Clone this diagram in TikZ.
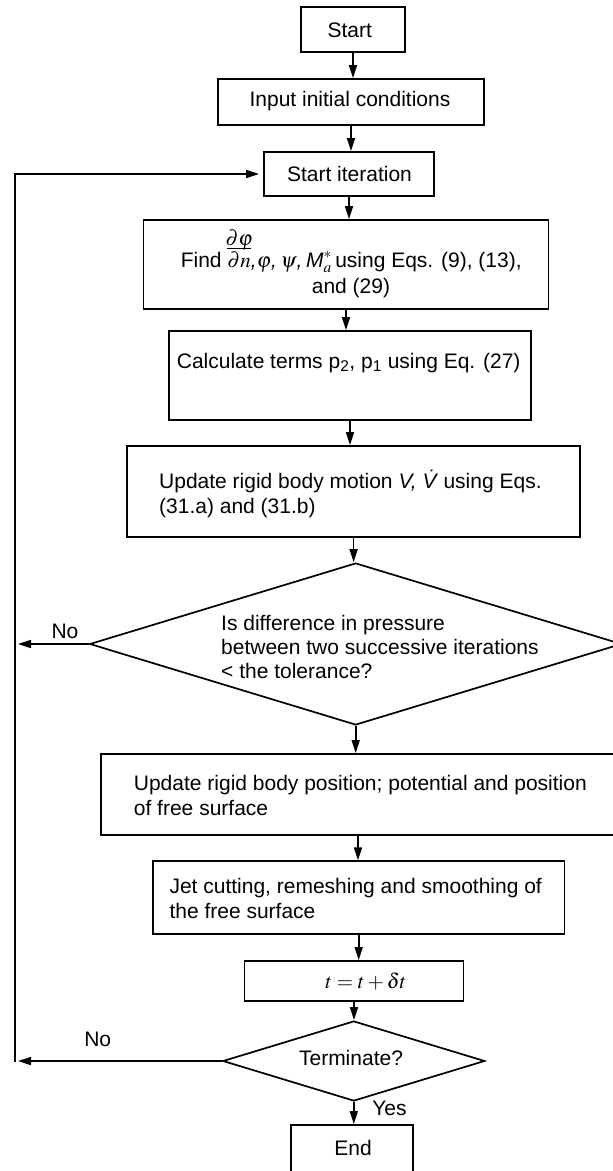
\documentclass[tikz,border=0pt]{standalone}
\usepackage{mathptmx}
\usepackage{fontspec}
\setmainfont{Liberation Sans}
\usetikzlibrary{arrows.meta,shapes.geometric}
\newcommand{\dphidn}{\leavevmode\setbox0\hbox{$\overline{\partial n}$}\rlap{\hbox to \wd0{\hss\raisebox{22pt}{$\partial\varphi$}\hss}}\box0}
\begin{document}
\begin{tikzpicture}[x=1pt,y=-1pt,
  box/.style={draw, line width=1.8pt, inner sep=0pt},
  dia/.style={draw, diamond, line width=1.7pt, inner sep=0pt},
  conn/.style={line width=1.6pt, -{Triangle[length=13pt,width=8pt]}},
  txt/.style={inner sep=0pt, font=\fontsize{21}{25}\selectfont},
  tl/.style={txt, anchor=base west},
  tc/.style={txt, anchor=base}]
\useasboundingbox (0,0) rectangle (613,1171);
\fill[white] (0,0) rectangle (613,1171);
\clip (0,0) rectangle (613,1171);

% boxes
\node[box, minimum width=104pt, minimum height=45pt] (start) at (353,29.7) {};
\node[box, minimum width=266pt, minimum height=46pt] (input) at (351,102) {};
\node[box, minimum width=170pt, minimum height=44pt] (iter) at (349,174) {};
\node[box, minimum width=405pt, minimum height=89pt] (find) at (346,264.5) {};
\node[box, minimum width=362pt, minimum height=89pt] (calc) at (350,375.5) {};
\node[box, minimum width=453pt, minimum height=91pt] (motion) at (353.6,491.5) {};
\node[dia, minimum width=532pt, minimum height=162pt] (d1) at (355.7,644) {};
\node[box, minimum width=514pt, minimum height=81pt] (upd) at (358,794.5) {};
\node[box, minimum width=411.6pt, minimum height=72.4pt] (jet) at (358.7,897.5) {};
\node[box, minimum width=219pt, minimum height=40pt] (tbox) at (354,981) {};
\node[dia, minimum width=262pt, minimum height=80pt] (d2) at (353.8,1061) {};
\node[box, minimum width=121.6pt, minimum height=47pt] (endb) at (352,1148.5) {};

% texts
\node[tc] (startt) at (349.8,37) {Start};
\node[tc] (inputt) at (350,106.5) {Input initial conditions};
\node[tc] (itert) at (349.5,181) {Start iteration};
\node[tl] (findt1) at (180.6,267) {Find \dphidn\textit{,}$\varphi$\textit{,}\,$\psi$\textit{,}\,$\mbox{\itshape M}^{*}_{a}$\,using Eqs. (9), (13),};
\node[tc] (findt2) at (351,293) {and (29)};
\node[tl] (calct) at (176.7,368) {Calculate terms p\textsubscript{2}, p\textsubscript{1} using Eq. (27)};
\node[tl] (motiont1) at (159,488) {Update rigid body motion \textit{V, \.{V}} using Eqs.};
\node[tl] (motiont2) at (159,513) {(31.a) and (31.b)};
\node[tl] (d1t1) at (221,630) {Is difference in pressure};
\node[tl] (d1t2) at (221,654) {between two successive iterations};
\node[tl] (d1t3) at (221,678) {< the tolerance?};
\node[tl] (updt1) at (133.7,790) {Update rigid body position; potential and position};
\node[tl] (updt2) at (133.7,815) {of free surface};
\node[tl] (jett1) at (169.3,893) {Jet cutting, remeshing and smoothing of};
\node[tl] (jett2) at (169.3,918) {the free surface};
\node[tc] (tt) at (366,988) {$t=t+\delta t$};
\node[tc] (d2t) at (351,1065) {Terminate?};
\node[tc] (endt) at (353,1155) {End};
\node[tc] (no1) at (65,638) {No};
\node[tc] (no2) at (97.7,1046) {No};
\node[tc] (yes) at (389.5,1115) {Yes};

% loop coordinates
\coordinate (lb) at (15,1061.7);

% connectors
\draw[conn] (start.south) -- (start.south |- input.north);
\draw[conn] (input.south) -- (input.south |- iter.north);
\draw[conn] (iter.south) -- (iter.south |- find.north);
\draw[conn] (find.south) -- (find.south |- calc.north);
\draw[conn] (calc.south) -- (calc.south |- motion.north);
\draw[conn] (motion.south) -- (motion.south |- d1.north);
\draw[conn] (d1.south) -- (d1.south |- upd.north);
\draw[conn] (upd.south) -- (upd.south |- jet.north);
\draw[conn] (jet.south) -- (jet.south |- tbox.north);
\draw[conn] (tbox.south) -- (tbox.south |- d2.north);
\draw[conn] (d2.south) -- (d2.south |- endb.north);
\draw[conn, shorten >=3pt] (d1.west) -- (d1.west -| lb);
\draw[conn, shorten >=3pt] (d2.west) -- (d2.west -| lb);
\draw[conn, shorten >=4pt] (lb) |- (iter.west);
\end{tikzpicture}
\end{document}
